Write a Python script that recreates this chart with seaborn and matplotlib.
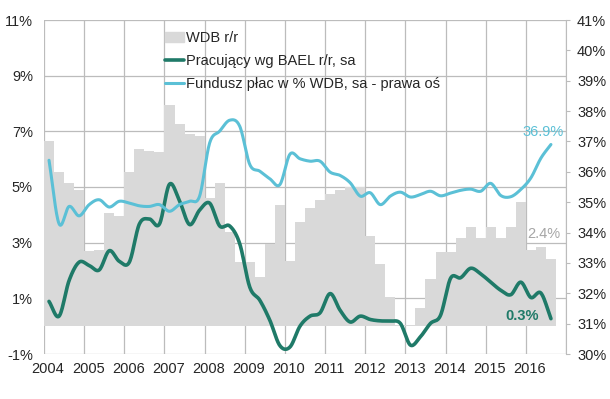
import numpy as np
import seaborn as sns
import matplotlib.pyplot as plt
from matplotlib.patches import Patch
from matplotlib.lines import Line2D
import matplotlib.transforms as mtransforms

# kwartały 2004Q1 - 2016Q3
years = list(range(2004, 2017))
quarters = [f"{y}Q{q}" for y in years for q in range(1, 5)][:51]

# WDB r/r, %
wdb = [6.65, 5.55, 5.15, 4.9,
       2.7, 2.75, 4.05, 3.95,
       5.55, 6.35, 6.3, 6.25,
       7.95, 7.25, 6.9, 6.85,
       4.6, 5.15, 3.4, 2.3,
       2.3, 1.75, 2.95, 4.35,
       2.35, 3.75, 4.25, 4.55,
       4.75, 4.9, 5.0, 5.0,
       3.25, 2.25, 1.05, 0.05,
       0.05, 0.65, 1.7, 2.65,
       2.65, 3.15, 3.55, 3.15,
       3.55, 3.15, 3.55, 4.45,
       2.75, 2.85, 2.4]

# Pracujący wg BAEL r/r, sa, %
pracujacy = [0.89, 0.36, 1.64, 2.3,
             2.18, 2.02, 2.71, 2.33,
             2.3, 3.67, 3.85, 3.67,
             5.1, 4.5, 3.65, 4.17,
             4.42, 3.6, 3.6, 2.96,
             1.4, 0.93, 0.21, -0.7,
             -0.75, 0.0, 0.36, 0.48,
             1.17, 0.57, 0.15, 0.36,
             0.24, 0.19, 0.18, 0.1,
             -0.68, -0.38, 0.1, 0.39,
             1.72, 1.74, 2.08, 1.88,
             1.58, 1.29, 1.13, 1.58,
             1.03, 1.19, 0.27]

# Fundusz płac w % WDB, sa (prawa oś)
fundusz = [36.38, 34.29, 34.86, 34.55,
           34.92, 35.08, 34.84, 35.03,
           34.97, 34.88, 34.86, 34.92,
           34.7, 34.92, 35.03, 35.2,
           36.95, 37.34, 37.7, 37.5,
           36.24, 36.02, 35.77, 35.58,
           36.58, 36.43, 36.35, 36.35,
           35.99, 35.88, 35.64, 35.2,
           35.31, 34.92, 35.2, 35.33,
           35.17, 35.25, 35.36, 35.21,
           35.3, 35.39, 35.43, 35.36,
           35.62, 35.22, 35.18, 35.42,
           35.8, 36.45, 36.9]

gray = "#d9d9d9"
teal = "#1f7a68"
blue = "#5bc0d6"


def smooth(y, n=16):
    # wygładzenie linii (Catmull-Rom), jak "smoothed line" w Excelu
    y = np.asarray(y, float)
    p = np.concatenate([[2 * y[0] - y[1]], y, [2 * y[-1] - y[-2]]])
    t = np.linspace(0, 1, n, endpoint=False)
    xs, ys = [], []
    for i in range(len(y) - 1):
        p0, p1, p2, p3 = p[i], p[i + 1], p[i + 2], p[i + 3]
        ys.append(0.5 * (2 * p1 + (-p0 + p2) * t + (2 * p0 - 5 * p1 + 4 * p2 - p3) * t ** 2
                         + (-p0 + 3 * p1 - 3 * p2 + p3) * t ** 3))
        xs.append(i + t)
    xs.append([len(y) - 1])
    ys.append([y[-1]])
    return np.concatenate(xs), np.concatenate(ys)


sns.set_style("white")
plt.rcParams["font.family"] = ["Liberation Sans", "DejaVu Sans"]

fig = plt.figure(figsize=(6.1, 3.99), dpi=100)
ax = fig.add_axes([44 / 610, 1 - 354 / 399, 522 / 610, 334 / 399])

sns.barplot(x=quarters, y=wdb, ax=ax, color=gray, width=1.0, saturation=1, linewidth=0)
xs, ys = smooth(pracujacy)
sns.lineplot(x=xs, y=ys, ax=ax, color=teal, linewidth=2.6, estimator=None, sort=False)

ax.set_xlim(-0.5, 51.5)
ax.set_ylim(-1, 11)
ax.set_yticks(range(-1, 12, 2))
ax.set_yticklabels([f"{v}%" for v in range(-1, 12, 2)])
ax.set_xticks([-0.5 + 4 * k for k in range(14)])
ax.set_xticklabels([str(y) for y in years] + [""])
ax.set_xlabel("")
ax.set_ylabel("")
ax.set_axisbelow(True)
ax.grid(True, color="#bcbcbc", linewidth=0.9)
ax.tick_params(axis="both", length=0, labelsize=10.5, colors="#262626")
ax.tick_params(axis="y", pad=8)
ax.tick_params(axis="x", pad=6)
for s in ax.spines.values():
    s.set_visible(False)
offset = mtransforms.ScaledTranslation(4 / 100, 0, fig.dpi_scale_trans)
for lab in ax.get_xticklabels():
    lab.set_transform(lab.get_transform() + offset)

ax2 = ax.twinx()
xs2, ys2 = smooth(fundusz)
sns.lineplot(x=xs2, y=ys2, ax=ax2, color=blue, linewidth=2.2, estimator=None, sort=False)
ax2.set_ylim(30, 41)
ax2.set_yticks(range(30, 42))
ax2.set_yticklabels([f"{v}%" for v in range(30, 42)])
ax2.set_ylabel("")
ax2.tick_params(axis="y", length=3, color="#bcbcbc", labelsize=10.5, colors="#262626", pad=5)
ax2.tick_params(axis="y", color="#bcbcbc")
for k, s in ax2.spines.items():
    s.set_visible(k == "right")
ax2.spines["right"].set_color("#bcbcbc")

ax2.annotate("36.9%", xy=(50, fundusz[-1]), xytext=(-6, 9), textcoords="offset points",
             ha="center", va="center", color=blue, fontsize=10.5)
ax.annotate("2.4%", xy=(50, wdb[-1]), xytext=(-5, 18), textcoords="offset points",
            ha="center", va="center", color="#a6a6a6", fontsize=10.5)
ax.annotate("0.3%", xy=(50, pracujacy[-1]), xytext=(-21, 2), textcoords="offset points",
            ha="center", va="center", color=teal, fontsize=10.5, fontweight="bold")

handles = [Patch(color=gray), Line2D([], [], color=teal, lw=2.6), Line2D([], [], color=blue, lw=2.2)]
labels = ["WDB r/r", "Pracujący wg BAEL r/r, sa", "Fundusz płac w % WDB, sa - prawa oś"]
ax2.legend(handles, labels, loc="upper left", bbox_to_anchor=(0.22, 0.985), frameon=False,
           fontsize=10.5, handlelength=1.3, handletextpad=0.15, labelspacing=0.62,
           borderaxespad=0, labelcolor="#262626")

fig.savefig("out.png", dpi=100)
